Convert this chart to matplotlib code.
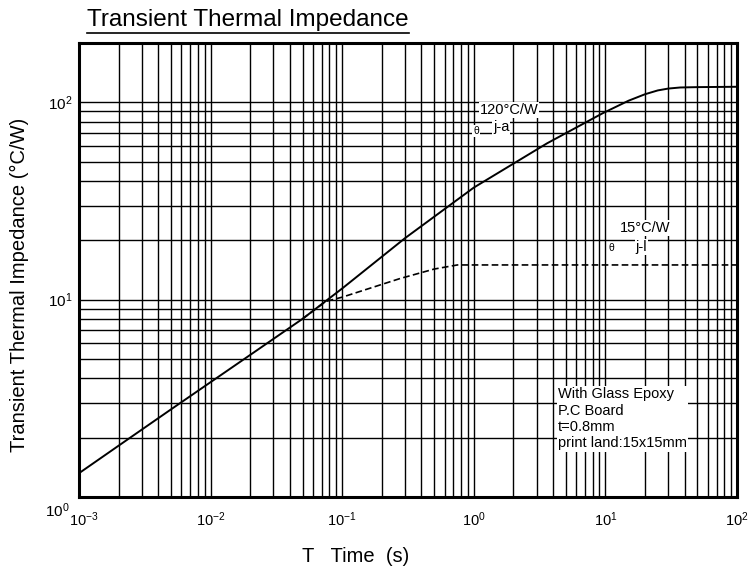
import matplotlib
matplotlib.use("Agg")
import matplotlib.pyplot as plt
import matplotlib.transforms as mtransforms
from matplotlib.lines import Line2D
from matplotlib.ticker import LogLocator, NullFormatter

plt.rcParams['font.family'] = ['Liberation Sans', 'DejaVu Sans']
plt.rcParams['mathtext.fontset'] = 'custom'
plt.rcParams['mathtext.rm'] = 'Liberation Sans'
plt.rcParams['mathtext.it'] = 'Liberation Sans'

# Data
t_ja = [1e-3, 2e-3, 5e-3, 1e-2, 2e-2, 5e-2, 0.1, 0.3, 1.0, 3.6, 9.5, 15, 20, 25, 30, 37, 50, 100]
z_ja = [1.32, 1.82, 2.78, 3.82, 5.25, 8.0, 11.4, 20.5, 37, 62, 88, 102, 110, 115, 117.5, 119, 119.5, 120]

t_jl = [0.05, 0.075, 0.1, 0.275, 0.5, 0.75, 1.0, 100]
z_jl = [8.0, 9.8, 10.3, 12.8, 14.3, 15.0, 15.0, 15.0]

x_ticks = [1e-3, 1e-2, 1e-1, 1e0, 1e1, 1e2]
x_ticklabels = [r'$10^{-3}$', r'$10^{-2}$', r'$10^{-1}$', r'$10^{0}$', r'$10^{1}$', r'$10^{2}$']
y_ticks = [1, 10, 100]
y_ticklabels = [r'$10^{0}$', r'$10^{1}$', r'$10^{2}$']

title = 'Transient Thermal Impedance'
xlabel = 'T   Time  (s)'
ylabel = 'Transient Thermal Impedance (°C/W)'
note = 'With Glass Epoxy\nP.C Board\nt=0.8mm\nprint land:15x15mm'

W, H = 748, 574
fig = plt.figure(figsize=(W/100, H/100), dpi=100)
ax = fig.add_axes([79/W, 77/H, 658/W, 454/H])

ax.set_xscale('log')
ax.set_yscale('log')
ax.set_xlim(1e-3, 1e2)
ax.set_ylim(1, 200)

ax.xaxis.set_minor_locator(LogLocator(base=10, subs=range(2, 10), numticks=20))
ax.yaxis.set_minor_locator(LogLocator(base=10, subs=range(2, 10), numticks=20))
ax.xaxis.set_minor_formatter(NullFormatter())
ax.yaxis.set_minor_formatter(NullFormatter())
ax.set_xticks(x_ticks)
ax.set_xticklabels(x_ticklabels)
ax.set_yticks(y_ticks)
ax.set_yticklabels(y_ticklabels)

ax.grid(True, which='both', color='black', linewidth=1.0)
ax.set_axisbelow(True)
ax.tick_params(which='both', length=0, labelsize=10.5, colors='black')
ax.tick_params(axis='x', pad=10)
ax.tick_params(axis='y', pad=5, labelsize=11)

# shift the 10^0 label down and the 10^-3 label right like in the reference
lbl0 = ax.get_yticklabels()[0]
lbl0.set_transform(lbl0.get_transform() + mtransforms.ScaledTranslation(-2/100, -12/100, fig.dpi_scale_trans))
lblx0 = ax.get_xticklabels()[0]
lblx0.set_transform(lblx0.get_transform() + mtransforms.ScaledTranslation(5/100, 0, fig.dpi_scale_trans))

for s in ax.spines.values():
    s.set_linewidth(2.2)
    s.set_color('black')

ax.plot(t_ja, z_ja, color='black', linewidth=1.4)
ax.plot(t_jl, z_jl, color='black', linewidth=1.2, linestyle=(0, (4, 2)))

bb = dict(facecolor='white', edgecolor='none', pad=0.5)
ax.text(0.609, 0.852, '120°C/W', transform=ax.transAxes, fontsize=10.5, va='center', ha='left', bbox=bb)
ax.text(0.599, 0.806, 'θ', transform=ax.transAxes, fontsize=7.5, va='center', ha='left', bbox=bb)
ax.text(0.629, 0.815, 'j-a', transform=ax.transAxes, fontsize=10.5, va='center', ha='left', bbox=bb)
ax.text(0.822, 0.593, '15°C/W', transform=ax.transAxes, fontsize=10.5, va='center', ha='left', bbox=bb)
ax.text(0.805, 0.548, 'θ', transform=ax.transAxes, fontsize=7.5, va='center', ha='left', bbox=bb)
ax.text(0.846, 0.551, 'j-l', transform=ax.transAxes, fontsize=10.5, va='center', ha='left', bbox=bb)

ax.text(0.728, 0.242, note, transform=ax.transAxes, fontsize=10.5, va='top', ha='left',
        linespacing=1.22, bbox=dict(facecolor='white', edgecolor='none', pad=1.0))

fig.text(356/W, 1 - 556/H, xlabel, fontsize=14.5, ha='center', va='center')
fig.text(19/W, 1 - 285/H, ylabel, fontsize=14.5, ha='center', va='center', rotation=90)

tt = fig.text(87/W, 1 - 20/H, title, fontsize=17.5, ha='left', va='center')

fig.canvas.draw()
ext = tt.get_window_extent()
fig.add_artist(Line2D([ext.x0, ext.x1], [ext.y0 - 1.5, ext.y0 - 1.5], color='black', linewidth=1.2,
                      transform=None))

fig.savefig('out.png', dpi=100)
